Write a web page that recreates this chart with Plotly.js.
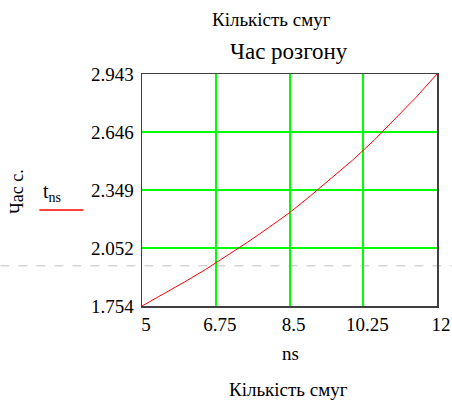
<!DOCTYPE html>
<html>
<head>
<meta charset="utf-8">
<script src="https://cdn.plot.ly/plotly-3.0.1.min.js"></script>
<style>html,body{margin:0;padding:0;background:#fff;}#chart{width:452px;height:400px;}</style>
</head>
<body>
<div id="chart"></div>
<script>
// Data
const ns = [5, 5.5, 6, 6.5, 7, 7.5, 8, 8.5, 9, 9.5, 10, 10.5, 11, 11.5, 12];
const tns = [1.754, 1.813, 1.876, 1.940, 2.008, 2.080, 2.155, 2.232, 2.319, 2.408, 2.502, 2.602, 2.712, 2.823, 2.943];
const xTicks = [5, 6.75, 8.5, 10.25, 12];
const xTickText = ['5', '6.75', '8.5', '10.25', '12'];
const yTicks = [1.754, 2.052, 2.349, 2.646, 2.943];
const yTickText = ['1.754', '2.052', '2.349', '2.646', '2.943'];
const markerValue = 1.96;
const titleTop = 'Кількість смуг';
const titleMain = 'Час розгону';
const xLabel = 'ns';
const xLabel2 = 'Кількість смуг';
const yLabel = 'Час с.';
const legendText = 't<sub>ns</sub>';

const F = '"Liberation Serif", "DejaVu Serif", serif';
const GRID = 'rgb(0,255,0)';

const trace = {
  x: ns, y: tns, type: 'scatter', mode: 'lines',
  line: {color: '#ff0000', width: 1}, showlegend: false, hoverinfo: 'skip'
};

const layout = {
  width: 452, height: 400,
  margin: {l: 142, r: 15, t: 74, b: 94},
  paper_bgcolor: '#ffffff', plot_bgcolor: '#ffffff',
  font: {family: F, color: '#000', size: 19},
  showlegend: false,
  xaxis: {
    range: [5, 12], tickvals: xTicks, ticktext: xTickText,
    showgrid: true, gridcolor: GRID, gridwidth: 2,
    zeroline: false, showline: true, linecolor: '#404040', linewidth: 1.5, mirror: true,
    ticks: '', ticklabelstandoff: 1, ticklabelshift: 4,
    tickfont: {family: F, size: 19, color: '#000'}
  },
  yaxis: {
    range: [1.754, 2.943], tickvals: yTicks, ticktext: yTickText,
    showgrid: true, gridcolor: GRID, gridwidth: 2,
    zeroline: false, showline: true, linecolor: '#404040', linewidth: 1.5, mirror: true,
    ticks: '', ticklabelstandoff: 3,
    tickfont: {family: F, size: 19, color: '#000'}
  },
  shapes: [
    {type: 'line', xref: 'paper', yref: 'y', x0: -0.48, x1: 1.05, y0: markerValue, y1: markerValue,
     line: {color: '#c0c0c0', width: 1, dash: 'dash'}, layer: 'below'},
    {type: 'line', xref: 'paper', yref: 'paper', x0: -0.348, x1: -0.199, y0: 0.4138, y1: 0.4138,
     line: {color: '#ff0000', width: 1.5}}
  ],
  annotations: [
    {text: titleTop, xref: 'paper', yref: 'paper', x: (271 - 142) / 295, y: (306 - 19) / 232,
     xanchor: 'center', yanchor: 'middle', showarrow: false, font: {family: F, size: 19, color: '#000'}},
    {text: titleMain, xref: 'paper', yref: 'paper', x: (288.5 - 142) / 295, y: (306 - 51) / 232,
     xanchor: 'center', yanchor: 'middle', showarrow: false, font: {family: F, size: 23, color: '#000'}},
    {text: xLabel, xref: 'paper', yref: 'paper', x: (290 - 142) / 295, y: (306 - 353) / 232,
     xanchor: 'center', yanchor: 'middle', showarrow: false, font: {family: F, size: 19, color: '#000'}},
    {text: xLabel2, xref: 'paper', yref: 'paper', x: (288 - 142) / 295, y: (306 - 389) / 232,
     xanchor: 'center', yanchor: 'middle', showarrow: false, font: {family: F, size: 19, color: '#000'}},
    {text: yLabel, xref: 'paper', yref: 'paper', x: (17 - 142) / 295, y: (306 - 192) / 232,
     xanchor: 'center', yanchor: 'middle', textangle: -90, showarrow: false, font: {family: F, size: 18, color: '#000'}},
    {text: legendText, xref: 'paper', yref: 'paper', x: (41 - 142) / 295, y: (306 - 192) / 232,
     xanchor: 'left', yanchor: 'middle', showarrow: false, font: {family: F, size: 20, color: '#000'}}
  ]
};

Plotly.newPlot('chart', [trace], layout, {staticPlot: true, displayModeBar: false});
</script>
</body>
</html>
